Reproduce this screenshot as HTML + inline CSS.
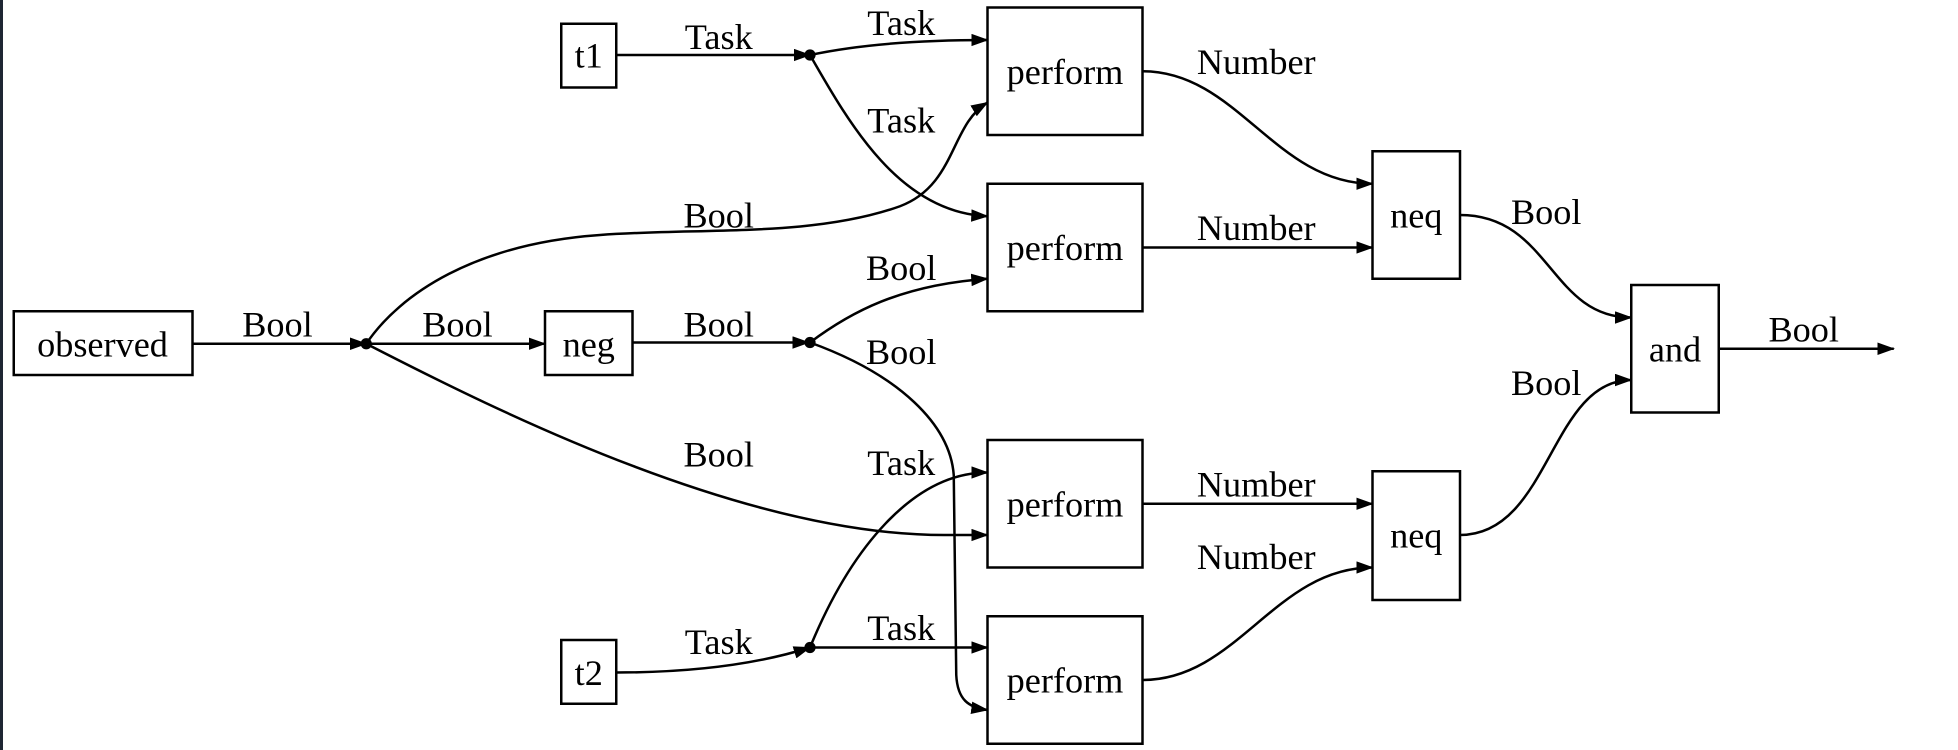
<!DOCTYPE html>
<html><head><meta charset="utf-8"><style>
html,body{margin:0;padding:0;background:#fff;}
body{width:1958px;height:750px;overflow:hidden;position:relative;}
.bar{position:absolute;left:0;top:0;width:3px;height:750px;background:#1e2633;}
svg{position:absolute;left:0;top:0;}
text{font-family:"Liberation Serif",serif;font-size:29px;fill:#000;text-anchor:middle;}
</style></head><body>
<div class="bar"></div>
<svg width="1958" height="750" viewBox="0 0 1566.4 600">
<defs><marker id="a" markerWidth="14" markerHeight="10" refX="13" refY="5" orient="auto" markerUnits="userSpaceOnUse"><path d="M0,0 L14,5 L0,10 Z" fill="#000"/></marker></defs>
<g fill="none" stroke="#000" stroke-width="2">
<rect x="11" y="249" width="143" height="51"/>
<rect x="436" y="249" width="70" height="51"/>
<rect x="449" y="19" width="44" height="51"/>
<rect x="449" y="512" width="44" height="51"/>
<rect x="790" y="6" width="124" height="102"/>
<rect x="790" y="147" width="124" height="102"/>
<rect x="790" y="352" width="124" height="102"/>
<rect x="790" y="493" width="124" height="102"/>
<rect x="1098" y="121" width="70" height="102"/>
<rect x="1098" y="377" width="70" height="103"/>
<rect x="1305" y="228" width="70" height="102"/>
</g>
<g fill="none" stroke="#000" stroke-width="2" marker-end="url(#a)">
<path d="M154,275 L293,275"/>
<path d="M293,275 L436,275"/>
<path d="M293,275 C320,235 380,195 480,188 C560,182 650,190 720,165 C765,148 760,100 790,82"/>
<path d="M293,275 C400,330 600,430 760,428 L790,428"/>
<path d="M506,274 L647,274"/>
<path d="M648,274 C680,250 720,228 790,223"/>
<path d="M648,274 C720,300 760,340 763,380 L765,540 C766,560 775,566 790,568"/>
<path d="M493,44 L648,44"/>
<path d="M648,44 C690,35 740,32 790,32"/>
<path d="M648,44 C680,100 720,170 790,173"/>
<path d="M493,538 C560,538 610,530 648,518"/>
<path d="M648,518 C680,440 730,378 790,378"/>
<path d="M648,518 L790,518"/>
<path d="M914,57 C990,57 1020,147 1098,147"/>
<path d="M914,198 L1098,198"/>
<path d="M914,403 L1098,403"/>
<path d="M914,544 C990,544 1020,454 1098,454"/>
<path d="M1168,172 C1240,172 1240,254 1305,254"/>
<path d="M1168,428 C1240,428 1240,304 1305,304"/>
<path d="M1375,279 L1515,279"/>
</g>
<circle cx="293" cy="275" r="4.5"/>
<circle cx="648" cy="274" r="4.5"/>
<circle cx="648" cy="44" r="4.5"/>
<circle cx="648" cy="518" r="4.5"/>
<text x="82" y="285">observed</text>
<text x="471" y="285">neg</text>
<text x="471" y="54">t1</text>
<text x="471" y="548">t2</text>
<text x="852" y="67">perform</text>
<text x="852" y="208">perform</text>
<text x="852" y="413">perform</text>
<text x="852" y="554">perform</text>
<text x="1133" y="182">neq</text>
<text x="1133" y="438">neq</text>
<text x="1340" y="289">and</text>
<text x="222" y="269">Bool</text>
<text x="366" y="269">Bool</text>
<text x="575" y="182">Bool</text>
<text x="575" y="373">Bool</text>
<text x="575" y="269">Bool</text>
<text x="721" y="224">Bool</text>
<text x="721" y="291">Bool</text>
<text x="575" y="39">Task</text>
<text x="721" y="28">Task</text>
<text x="721" y="106">Task</text>
<text x="575" y="523">Task</text>
<text x="721" y="380">Task</text>
<text x="721" y="512">Task</text>
<text x="1005" y="59">Number</text>
<text x="1005" y="192">Number</text>
<text x="1005" y="397">Number</text>
<text x="1005" y="455">Number</text>
<text x="1237" y="179">Bool</text>
<text x="1237" y="316">Bool</text>
<text x="1443" y="273">Bool</text>
</svg>
</body></html>
